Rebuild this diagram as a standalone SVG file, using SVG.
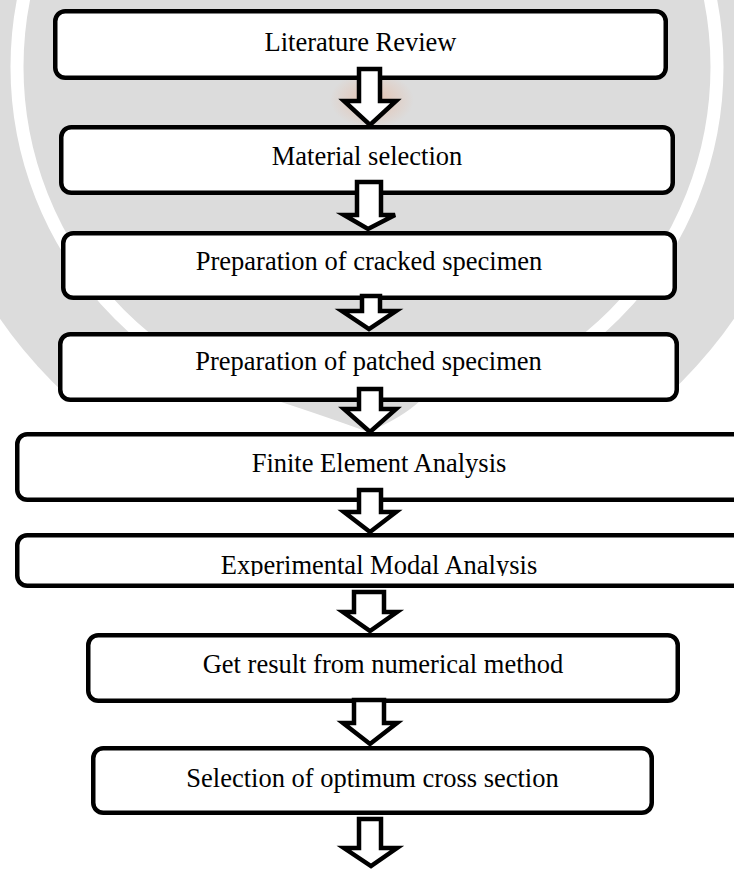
<svg xmlns="http://www.w3.org/2000/svg" width="734" height="869" viewBox="0 0 734 869">
<style>
.box{fill:#fff;stroke:#000;stroke-width:4.5}
.arr{fill:#fff;stroke:#000;stroke-width:4.5;stroke-linejoin:miter}
.lbl{font-family:"Liberation Serif","Times New Roman",serif;font-size:26.5px;fill:#000;text-anchor:middle}
.wm{fill:#dcdcdc}
</style>
<defs>
<clipPath id="clipEMA"><rect x="0" y="537" width="734" height="39"/></clipPath>
<clipPath id="clipWM"><rect x="0" y="0" width="734" height="402"/></clipPath>
<radialGradient id="flame" cx="0.5" cy="0.5" r="0.5">
<stop offset="0" stop-color="#e8b59a" stop-opacity="0.7"/>
<stop offset="1" stop-color="#e8b59a" stop-opacity="0"/>
</radialGradient>
</defs>
<rect x="0" y="0" width="734" height="869" fill="#fff"/>
<g id="watermark">
<g clip-path="url(#clipWM)">
<circle class="wm" cx="367" cy="67" r="445"/>
<circle cx="367" cy="67" r="350" fill="none" stroke="#fff" stroke-width="13"/>
</g>
<path class="wm" d="M275,400 Q330,418 368,432 Q402,418 421,400 Z"/>
<ellipse cx="372" cy="100" rx="42" ry="28" fill="url(#flame)"/>
</g>
<g id="n1"><rect class="box" x="55.25" y="11.25" width="610.5" height="66.5" rx="10"/><text class="lbl" x="360.5" y="51">Literature Review</text></g>
<g id="n2"><rect class="box" x="61.25" y="127.25" width="611.5" height="65.5" rx="10"/><text class="lbl" x="367" y="165">Material selection</text></g>
<g id="n3"><rect class="box" x="63.25" y="233.25" width="611.5" height="64.5" rx="10"/><text class="lbl" x="369" y="270">Preparation of cracked specimen</text></g>
<g id="n4"><rect class="box" x="60.25" y="334.25" width="616.5" height="65.5" rx="10"/><text class="lbl" x="368.5" y="370">Preparation of patched specimen</text></g>
<g id="n5"><rect class="box" x="17.25" y="434.25" width="740" height="65.5" rx="10"/><text class="lbl" x="379" y="472">Finite Element Analysis</text></g>
<g id="n6"><rect class="box" x="17.25" y="535.25" width="740" height="50.5" rx="10"/><text class="lbl" x="379" y="574" clip-path="url(#clipEMA)">Experimental Modal Analysis</text></g>
<g id="n7"><rect class="box" x="88.25" y="635.25" width="589.5" height="65.5" rx="10"/><text class="lbl" x="383" y="673">Get result from numerical method</text></g>
<g id="n8"><rect class="box" x="93.25" y="748.25" width="558.5" height="64.5" rx="10"/><text class="lbl" x="372.5" y="787">Selection of optimum cross section</text></g>
<g id="connectors">
<polygon class="arr" points="359,69 380,69 380,101 396,101 370,125 344,101 359,101"/>
<polygon class="arr" points="357,182 381,182 381,215 395,215 368,229 344,215 357,215"/>
<polygon class="arr" points="362,296 380,296 380,311 396,311 369,329 342,311 362,311"/>
<polygon class="arr" points="359,389 381,389 381,409 396,409 370,432 344,409 359,409"/>
<polygon class="arr" points="359,490 381,490 381,512 396,512 370,532 344,512 359,512"/>
<polygon class="arr" points="354,592 384,592 384,612 397,612 370,631 343,612 354,612"/>
<polygon class="arr" points="354,700 384,700 384,723 397,723 370,744 343,723 354,723"/>
<polygon class="arr" points="359,819 381,819 381,848 397,848 371,866 344,848 359,848"/>
</g>
</svg>
